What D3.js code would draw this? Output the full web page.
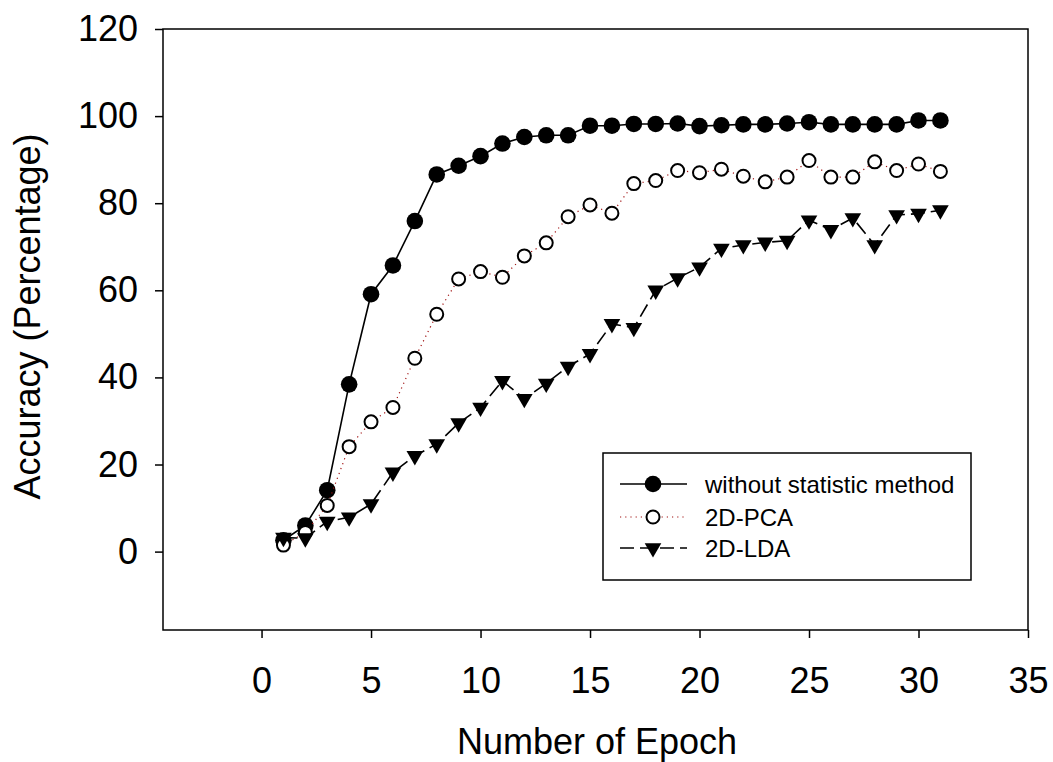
<!DOCTYPE html>
<html>
<head>
<meta charset="utf-8">
<script src="https://cdn.jsdelivr.net/npm/d3@7"></script>
<style>
  html, body { margin: 0; padding: 0; background: #fff; }
  svg { display: block; font-family: "Liberation Sans", Arial, sans-serif; }
</style>
</head>
<body>
<svg id="chart" width="1053" height="762"></svg>
<script>
// ---- data ----
const epochs = d3.range(1, 32);
const withoutStat = [2.6, 6.0, 14.1, 38.4, 59.1, 65.7, 75.9, 86.6, 88.6, 90.8, 93.7, 95.2, 95.6, 95.6, 97.8, 97.8, 98.2, 98.2, 98.3, 97.7, 97.9, 98.1, 98.1, 98.3, 98.6, 98.1, 98.1, 98.1, 98.1, 99.0, 99.0];
const pca2d = [1.5, 4.4, 10.6, 24.1, 29.8, 33.1, 44.4, 54.5, 62.6, 64.3, 63.0, 67.9, 70.9, 76.9, 79.6, 77.7, 84.5, 85.2, 87.5, 87.0, 87.8, 86.2, 84.9, 86.0, 89.8, 86.0, 86.0, 89.5, 87.5, 89.0, 87.3];
const lda2d = [3.2, 3.1, 6.9, 7.9, 10.9, 18.2, 22.0, 24.7, 29.5, 33.1, 39.2, 35.1, 38.6, 42.5, 45.4, 52.3, 51.4, 60.0, 62.8, 65.3, 69.6, 70.4, 71.0, 71.4, 76.1, 73.9, 76.6, 70.4, 77.3, 77.6, 78.4];
const seriesNames = ["without statistic method", "2D-PCA", "2D-LDA"];
const xTicks = [0, 5, 10, 15, 20, 25, 30, 35];
const yTicks = [0, 20, 40, 60, 80, 100, 120];
const xLabel = "Number of Epoch";
const yLabel = "Accuracy (Percentage)";

// ---- layout ----
const svg = d3.select("#chart");
const L = 163, R = 1028, T = 29, B = 630;
const x = d3.scaleLinear().domain([-4.5, 35]).range([L, R]);
const y = d3.scaleLinear().domain([-18, 120]).range([B, T]);

// frame
svg.append("rect").attr("x", L).attr("y", T).attr("width", R - L).attr("height", B - T)
  .attr("fill", "none").attr("stroke", "#000").attr("stroke-width", 1.5);

// axes
const xAxis = svg.append("g").attr("transform", `translate(0,${B})`)
  .call(d3.axisBottom(x).tickValues(xTicks).tickFormat(d3.format("d")).tickSizeInner(8).tickSizeOuter(0).tickPadding(29));
xAxis.select(".domain").remove();
xAxis.selectAll("line").attr("stroke-width", 1.5);
xAxis.selectAll("text").attr("font-size", 36).attr("font-family", "Liberation Sans, Arial, sans-serif").attr("fill", "#000");

const yAxis = svg.append("g").attr("transform", `translate(${L},0)`)
  .call(d3.axisLeft(y).tickValues(yTicks).tickFormat(d3.format("d")).tickSizeInner(8).tickSizeOuter(0).tickPadding(17));
yAxis.select(".domain").remove();
yAxis.selectAll("line").attr("stroke-width", 1.5);
yAxis.selectAll("text").attr("font-size", 36).attr("font-family", "Liberation Sans, Arial, sans-serif").attr("fill", "#000");

// axis titles
svg.append("text").attr("x", 597).attr("y", 754).attr("text-anchor", "middle")
  .attr("font-size", 36).text(xLabel);
svg.append("text").attr("transform", `translate(40,${(T + B) / 2 - 13}) rotate(-90)`)
  .attr("text-anchor", "middle").attr("font-size", 36).text(yLabel);

// series
const series = [
  { name: seriesNames[0], values: withoutStat, stroke: "#000", dash: null, width: 1.6, marker: "filled" },
  { name: seriesNames[1], values: pca2d, stroke: "#a01010", dash: "1.2,4", width: 1.2, marker: "open" },
  { name: seriesNames[2], values: lda2d, stroke: "#000", dash: "14,6", width: 1.6, marker: "tri" }
];

const line = d3.line().x((d, i) => x(epochs[i])).y(d => y(d));
const triPath = d3.symbol().type(d3.symbolTriangle).size(120)();

function drawMarker(g, kind, cx, cy) {
  if (kind === "filled") {
    g.append("circle").attr("cx", cx).attr("cy", cy).attr("r", 8.3).attr("fill", "#000");
  } else if (kind === "open") {
    g.append("circle").attr("cx", cx).attr("cy", cy).attr("r", 6.5).attr("fill", "#fff")
      .attr("stroke", "#000").attr("stroke-width", 2);
  } else {
    g.append("path").attr("d", triPath).attr("transform", `translate(${cx},${cy}) rotate(180)`).attr("fill", "#000");
  }
}

series.forEach(s => {
  const g = svg.append("g");
  g.append("path").datum(s.values).attr("d", line).attr("fill", "none")
    .attr("stroke", s.stroke).attr("stroke-width", s.width)
    .attr("stroke-dasharray", s.dash);
  s.values.forEach((v, i) => drawMarker(g, s.marker, x(epochs[i]), y(v)));
});

// legend
const lg = svg.append("g");
lg.append("rect").attr("x", 603).attr("y", 453).attr("width", 368).attr("height", 127)
  .attr("fill", "#fff").attr("stroke", "#000").attr("stroke-width", 1.5);
const rowsY = [484, 517, 548];
series.forEach((s, i) => {
  const yy = rowsY[i];
  lg.append("line").attr("x1", 620).attr("x2", 687).attr("y1", yy).attr("y2", yy)
    .attr("stroke", s.stroke).attr("stroke-width", s.width).attr("stroke-dasharray", s.dash);
  drawMarker(lg, s.marker, 653, yy);
  lg.append("text").attr("x", 705).attr("y", yy + 8.5).attr("font-size", 24).text(s.name);
});
</script>
</body>
</html>
